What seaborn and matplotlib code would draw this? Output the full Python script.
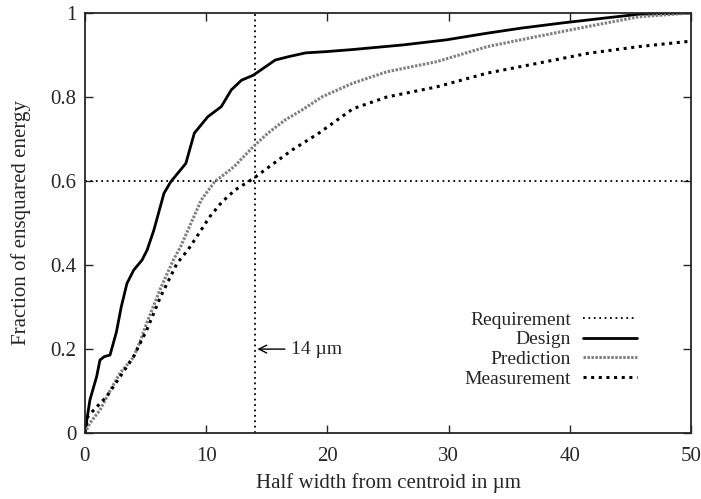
import matplotlib
matplotlib.use("Agg")
import matplotlib.pyplot as plt
from matplotlib.ticker import FormatStrFormatter
import seaborn as sns
import pandas as pd

# half width (um) vs fraction of ensquared energy
design_x = [0, 0.42, 0.97, 1.25, 1.6, 2.08, 2.6, 3.0, 3.47, 4.03, 4.72, 5.14, 5.69, 6.53,
            7.08, 8.33, 9.03, 10.14, 11.25, 12.08, 12.92, 13.9, 15.1, 15.7, 16.8, 18.2,
            19.9, 22.1, 26.25, 29.8, 33.2, 36.0, 39.3, 42.9, 45.7, 50]
design_y = [0, 0.079, 0.134, 0.174, 0.182, 0.186, 0.24, 0.30, 0.356, 0.388, 0.412, 0.436,
            0.483, 0.571, 0.598, 0.642, 0.714, 0.753, 0.777, 0.817, 0.840, 0.852, 0.876,
            0.888, 0.896, 0.905, 0.908, 0.913, 0.924, 0.936, 0.952, 0.964, 0.976, 0.988,
            0.997, 1.0]

pred_x = [0, 0.42, 1.25, 2.1, 2.9, 4.0, 4.6, 5.1, 6.25, 7.3, 7.9, 9.6, 10.7, 12.3, 13.9,
          15.1, 16.5, 17.9, 19.6, 22.1, 24.9, 29.0, 33.2, 37.3, 41.5, 45.7, 50]
pred_y = [0, 0.024, 0.055, 0.102, 0.143, 0.180, 0.221, 0.262, 0.345, 0.412, 0.444, 0.555,
          0.598, 0.634, 0.682, 0.714, 0.745, 0.769, 0.801, 0.833, 0.860, 0.884, 0.920,
          0.944, 0.968, 0.991, 1.0]

meas_x = [0, 0.25, 1.0, 1.8, 2.9, 4.0, 5.1, 6.25, 7.6, 8.5, 9.4, 10.3, 11.3, 12.4, 13.9,
          15.2, 17.1, 19.3, 22.1, 24.9, 29.0, 33.2, 37.3, 41.5, 45.7, 50]
meas_y = [0, 0.04, 0.063, 0.087, 0.134, 0.181, 0.245, 0.325, 0.404, 0.436, 0.475, 0.515,
          0.550, 0.579, 0.606, 0.634, 0.674, 0.714, 0.772, 0.800, 0.824, 0.857, 0.880,
          0.904, 0.920, 0.933]

req_energy = 0.6
req_width = 14

sns.set_style("ticks")
plt.rcParams["font.family"] = ["Liberation Serif", "DejaVu Serif"]
plt.rcParams["font.size"] = 15
plt.rcParams["xtick.direction"] = "in"
plt.rcParams["ytick.direction"] = "in"

fig = plt.figure(figsize=(7.01, 4.99), dpi=100)
ax = fig.add_axes([0.121, 0.132, 0.865, 0.842])

ax.axhline(req_energy, color="black", lw=1.3, ls=(0, (1, 2)), label="Requirement")
ax.axvline(req_width, color="black", lw=1.3, ls=(0, (1, 2)))

sns.lineplot(x=design_x, y=design_y, ax=ax, color="black", lw=2.0, label="Design")
sns.lineplot(x=pred_x, y=pred_y, ax=ax, color="#808080", lw=2.2, ls=(0, (0.8, 0.5)),
             label="Prediction")
sns.lineplot(x=meas_x, y=meas_y, ax=ax, color="black", lw=2.2, ls=(0, (1, 1.5)),
             label="Measurement")

ax.annotate("14 \u00b5m", xy=(req_width, 0.2), xytext=(17.0, 0.2), va="center", ha="left",
            fontsize=14, arrowprops=dict(arrowstyle="->", color="black", lw=1))

ax.set_xlim(0, 50)
ax.set_ylim(0, 1)
ax.set_xticks([0, 10, 20, 30, 40, 50])
ax.set_yticks([0, 0.2, 0.4, 0.6, 0.8, 1])
ax.yaxis.set_major_formatter(FormatStrFormatter("%g"))
ax.tick_params(top=True, right=True, length=6, width=1, labelsize=15, pad=6)
ax.tick_params(axis="x", pad=10)
for s in ax.spines.values():
    s.set_linewidth(1.3)

ax.set_xlabel("Half width from centroid in \u00b5m", fontsize=15, labelpad=5)
ax.set_ylabel("Fraction of ensquared energy", fontsize=15, labelpad=14)

ax.legend(loc="lower right", bbox_to_anchor=(0.924, 0.09), frameon=False, markerfirst=False,
          fontsize=14, handlelength=2.8, handletextpad=0.6, labelspacing=0.1,
          borderaxespad=0)

fig.savefig("out.png", dpi=100)
